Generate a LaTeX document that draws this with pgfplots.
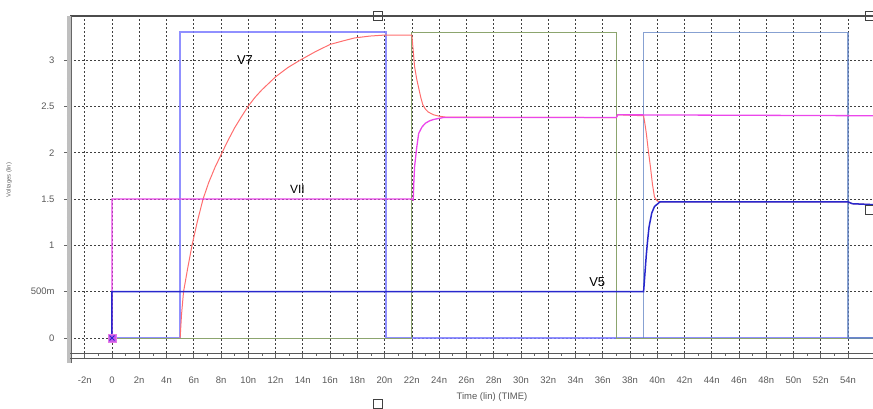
\documentclass[border=0pt]{standalone}
\usepackage{pgfplots}
\pgfplotsset{compat=1.18}
\usepackage{fontspec}
\setmainfont{Liberation Sans}
\definecolor{pulseA}{RGB}{125,125,255}
\definecolor{pulseB}{RGB}{140,165,110}
\definecolor{pulseC}{RGB}{95,130,195}
\definecolor{vseven}{RGB}{255,110,110}
\definecolor{vii}{RGB}{235,70,235}
\definecolor{vfive}{RGB}{40,40,205}
\begin{document}
\begin{tikzpicture}
\useasboundingbox (0,0) rectangle (873bp,409bp);
\begin{axis}[
  at={(70bp,56bp)}, anchor=south west,
  scale only axis, width=803bp, height=337bp,
  xmin=-3.08, xmax=55.83, ymin=-0.162, ymax=3.477,
  clip=false,
  axis line style={draw=none},
  tick pos=left, tick align=outside,
  major tick length=6bp, minor tick length=3bp,
  tick style={black!60, line width=0.7bp},
  xtick={-2,0,2,4,6,8,10,12,14,16,18,20,22,24,26,28,30,32,34,36,38,40,42,44,46,48,50,52,54},
  xticklabels={-2n,0,2n,4n,6n,8n,10n,12n,14n,16n,18n,20n,22n,24n,26n,28n,30n,32n,34n,36n,38n,40n,42n,44n,46n,48n,50n,52n,54n},
  minor x tick num=1,
  ytick={0,0.5,1,1.5,2,2.5,3},
  yticklabels={0,500m,1,1.5,2,2.5,3},
  minor y tick num=4,
  ticklabel style={font=\fontsize{9.5}{10}\selectfont, text=black!65},
  xticklabel style={yshift=-14bp},
  yticklabel style={xshift=-6bp},
  grid=major,
  major grid style={black!75, dash pattern=on 2bp off 2bp, line width=0.65bp},
  xlabel={Time (lin) (TIME)},
  xlabel style={at={(rel axis cs:0.5255,0)}, anchor=north, yshift=-36bp, font=\fontsize{9.5}{10}\selectfont, text=black!65},
  after end axis/.code={
    \draw[black!70, line width=1.2bp] (rel axis cs:0,1) -- (rel axis cs:1,1);
    \draw[black!25, line width=4bp] ([xshift=-1bp]rel axis cs:0,-0.03) -- ([xshift=-1bp]rel axis cs:0,1);
    \draw[black!60, line width=0.6bp] ([xshift=1bp]rel axis cs:0,-0.03) -- ([xshift=1bp]rel axis cs:0,1);
    \draw[black!65, line width=0.9bp] (rel axis cs:0,0) -- (rel axis cs:1,0);
    \draw[black!65, line width=0.9bp] ([yshift=-5bp]rel axis cs:0,0) -- ([yshift=-5bp]rel axis cs:1,0);
  },
]
% pulse 1 (5n - 20n)
\addplot[pulseA, line width=2.2bp, opacity=0.85] coordinates {
 (0,0) (5,0) (5,3.3) (20.1,3.3) (20.1,0) (55.83,0)};
% pulse 2 (22n - 37n)
\addplot[pulseB, line width=0.8bp] coordinates {
 (0,0) (22,0) (22,3.3) (37,3.3) (37,0) (55.83,0)};
% pulse 3 (39n - 54n)
\addplot[pulseC, line width=1.6bp, opacity=0.75] coordinates {
 (39,0) (39,3.3) (54,3.3) (54,0) (55.83,0)};
% V7
\addplot[vseven, line width=1bp] coordinates {
 (5,0) (5.1,0.25) (5.25,0.5) (5.55,0.75) (5.87,1.0) (6.25,1.25) (6.68,1.5)
 (7.1,1.68) (7.55,1.84) (8.07,2.0) (8.5,2.13) (9.0,2.27) (9.5,2.39) (9.98,2.5)
 (10.5,2.6) (11.0,2.68) (11.5,2.75) (12.0,2.82) (12.9,2.92) (13.8,3.0)
 (14.9,3.09) (16.0,3.17) (17.0,3.21) (17.8,3.24) (18.9,3.26)
 (19.9,3.27) (22.0,3.27) (22.1,3.1) (22.2,2.93) (22.35,2.8) (22.5,2.7)
 (22.65,2.6) (22.8,2.52) (23.0,2.47) (23.2,2.44)
 (23.6,2.41) (24.0,2.395) (24.5,2.385) (37,2.38) (37.1,2.41) (39.0,2.40) (39.1,2.31) (39.2,2.21)
 (39.35,2.02) (39.5,1.85) (39.65,1.66) (39.8,1.52) (40.0,1.48) (40.2,1.47) (54,1.47) (54.3,1.45) (55.83,1.44)};
% VII
\addplot[vii, line width=1.3bp] coordinates {
 (0,0) (0,1.5) (22.0,1.5) (22.1,1.49) (22.15,1.7) (22.2,1.85) (22.35,2.05) (22.5,2.21) (22.75,2.28) (23.0,2.32)
 (23.3,2.345) (23.6,2.36) (24.3,2.38) (37,2.38) (37.1,2.41) (55.83,2.40)};
% V5
\addplot[vfive, line width=1.5bp] coordinates {
 (0,0) (0,0.5) (39.0,0.5) (39.1,0.7) (39.2,0.9) (39.3,1.06) (39.4,1.2) (39.6,1.35) (39.8,1.42)
 (40.2,1.47) (54,1.47) (54.3,1.45) (55.83,1.44)};
% origin marker
\addplot[only marks, mark=square*, mark size=4bp, mark options={fill={rgb,255:red,200;green,90;blue,235}, draw={rgb,255:red,230;green,120;blue,230}}] coordinates {(0,0)};
\addplot[only marks, mark=x, mark size=3.5bp, mark options={draw=vfive, line width=1bp}] coordinates {(0,0)};
% cursor handles
\addplot[only marks, mark=square*, mark size=4.5bp, mark options={fill=white, draw=black!75, line width=1.2bp}] coordinates {
 (19.5,3.477) (19.5,-0.71) (55.6,3.477) (55.6,1.38)};
% labels
\node[font=\fontsize{13}{14}\selectfont] at (axis cs:9.76,3.0) {V7};
\node[font=\fontsize{12}{13}\selectfont] at (axis cs:13.6,1.6) {VII};
\node[font=\fontsize{13}{14}\selectfont] at (axis cs:35.6,0.6) {V5};
\end{axis}
\node[rotate=90, font=\fontsize{6}{7}\selectfont, text=black!60] at (9bp,229bp) {Voltages (lin)};
\end{tikzpicture}
\end{document}
